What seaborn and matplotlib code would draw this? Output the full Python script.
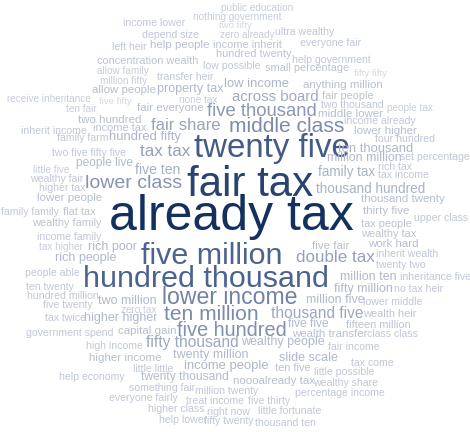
import matplotlib
matplotlib.use("Agg")
import matplotlib.pyplot as plt
import seaborn as sns
import numpy as np

# word cloud of two-word phrases, with how often each phrase came up
words = [
    "public education", "nothing government", "two fifty", "income lower", "zero already",
    "ultra wealthy", "depend size", "income inherit", "everyone fair", "left heir",
    "help people", "hundred twenty", "help government", "concentration wealth", "low possible",
    "small percentage", "allow family", "fifty fifty", "million fifty", "transfer heir",
    "low income", "anything million", "receive inheritance", "allow people", "property tax",
    "across board", "fair people", "five fifty", "none tax", "ten fair",
    "fair everyone", "five thousand", "two thousand", "people tax", "two hundred",
    "middle lower", "middle class", "income already", "income tax", "fair share",
    "inherit income", "lower higher", "family farm", "hundred fifty", "four hundred",
    "twenty five", "tax tax", "two five fifty five", "ten thousand", "million million",
    "set percentage", "people live", "five ten", "little five", "family tax",
    "rich tax", "tax income", "fair tax", "lower class", "wealthy fair",
    "higher tax", "thousand hundred", "thousand twenty", "lower people", "thirty five",
    "upper class", "family family", "flat tax", "already tax", "double tax",
    "five fair", "tax people", "wealthy tax", "work hard", "inherit wealth",
    "twenty two", "wealthy family", "income family", "tax higher", "rich poor",
    "five million", "rich people", "hundred thousand", "people able", "ten twenty",
    "hundred million", "five twenty", "two million", "lower income", "zero tax",
    "million ten", "inheritance five", "fifty million", "no tax heir", "million five",
    "lower middle", "ten million", "higher higher", "thousand five", "wealth heir",
    "tax twice", "five five", "fifteen million", "capital gain", "government spend",
    "five hundred", "wealth transfer", "class class", "high income", "fifty thousand",
    "wealthy people", "fair income", "higher income", "twenty million", "slide scale",
    "tax come", "income people", "little little", "ten five", "little possible",
    "help economy", "twenty thousand", "noooalready tax", "wealthy share", "something fair",
    "million twenty", "percentage income", "everyone fairly", "treat income", "five thirty",
    "higher class", "right now", "little fortunate", "help lower", "fifty twenty",
    "thousand ten",
]

counts = [
    6, 6, 5, 7, 6,
    7, 7, 8, 7, 7,
    9, 8, 7, 8, 7,
    8, 6, 5, 6, 7,
    12, 9, 6, 9, 11,
    16, 8, 5, 6, 6,
    9, 23, 7, 6, 9,
    9, 28, 7, 8, 19,
    7, 9, 7, 12, 7,
    52, 20, 7, 12, 11,
    7, 10, 14, 6, 13,
    7, 7, 70, 25, 7,
    7, 13, 9, 9, 9,
    7, 7, 8, 86, 20,
    9, 8, 8, 9, 7,
    7, 8, 7, 6, 11,
    47, 11, 47, 7, 7,
    7, 7, 11, 32, 6,
    11, 7, 11, 7, 11,
    7, 28, 11, 17, 8,
    7, 10, 8, 9, 7,
    26, 9, 7, 7, 17,
    11, 7, 9, 11, 11,
    7, 12, 7, 8, 7,
    7, 10, 9, 7, 7,
    7, 7, 7, 7, 7,
    7, 7, 7, 7, 7,
    7,
]

# where the cloud layout put each phrase (centre, in pixels of the 470x432 canvas)
layout_x = [
    257, 237, 235, 154, 247, 305, 170, 247, 331, 129,
    180, 254, 331, 148, 232, 307, 123, 370, 124, 185,
    257, 343, 49, 124, 190, 275, 348, 115, 198, 81,
    170, 262, 352, 410, 110, 351, 287, 380, 120, 186,
    54, 385, 83, 145, 405, 272, 165, 89, 376, 364,
    435, 104, 158, 51, 347, 395, 403, 250, 134, 57,
    62, 371, 403, 70, 386, 441, 30, 79, 231, 335,
    331, 386, 389, 393, 407, 401, 67, 69, 61, 112,
    212, 86, 206, 52, 50, 63, 68, 127, 230, 139,
    368, 435, 363, 419, 335, 393, 211, 121, 317, 390,
    65, 308, 378, 147, 70, 232, 330, 392, 114, 192,
    283, 354, 125, 211, 308, 372, 226, 153, 293, 344,
    92, 185, 274, 346, 162, 227, 340, 143, 215, 269,
    176, 228, 290, 183, 229, 285,
]
layout_y = [
    8, 17, 26, 23, 35, 32, 35, 45, 43, 47,
    45, 54, 60, 61, 66, 68, 71, 74, 81, 77,
    84, 85, 99, 90, 89, 97, 96, 102, 100, 109,
    108, 111, 105, 108, 120, 114, 127, 121, 128, 126,
    131, 131, 138, 137, 139, 149, 152, 153, 149, 158,
    157, 163, 170, 170, 172, 167, 175, 185, 183, 179,
    188, 189, 199, 198, 211, 218, 212, 212, 217, 257,
    246, 224, 234, 244, 254, 265, 223, 237, 247, 247,
    256, 258, 279, 273, 287, 296, 305, 301, 298, 310,
    277, 277, 289, 289, 300, 302, 315, 318, 313, 314,
    318, 324, 325, 331, 333, 331, 334, 334, 346, 343,
    342, 347, 358, 355, 358, 363, 366, 369, 368, 372,
    377, 377, 381, 383, 388, 391, 393, 398, 401, 401,
    409, 412, 411, 420, 421, 423,
]

sns.set_theme(style="white")
plt.rcParams['font.family'] = ['Liberation Sans', 'DejaVu Sans']

dpi = 100
fig = plt.figure(figsize=(4.7, 4.32), dpi=dpi)
ax = fig.add_axes([0, 0, 1, 1])
ax.set_xlim(0, 470)
ax.set_ylim(432, 0)
ax.axis('off')

# light grey-blue for rare phrases, deep navy for the most common ones
cmap = sns.blend_palette(['#d2d7e2', '#9aa6be', '#4e6490', '#13305f'], as_cmap=True)
c = np.array(counts, dtype=float)
shade = ((c - c.min()) / (c.max() - c.min())) ** 0.6
size_px = 7 + 0.5 * c

for w, x, y, s, t in zip(words, layout_x, layout_y, size_px, shade):
    ax.text(x, y, w, ha='center', va='center', fontsize=s * 72 / dpi,
            color=cmap(t))

fig.savefig('out.png', dpi=dpi, facecolor='white')
